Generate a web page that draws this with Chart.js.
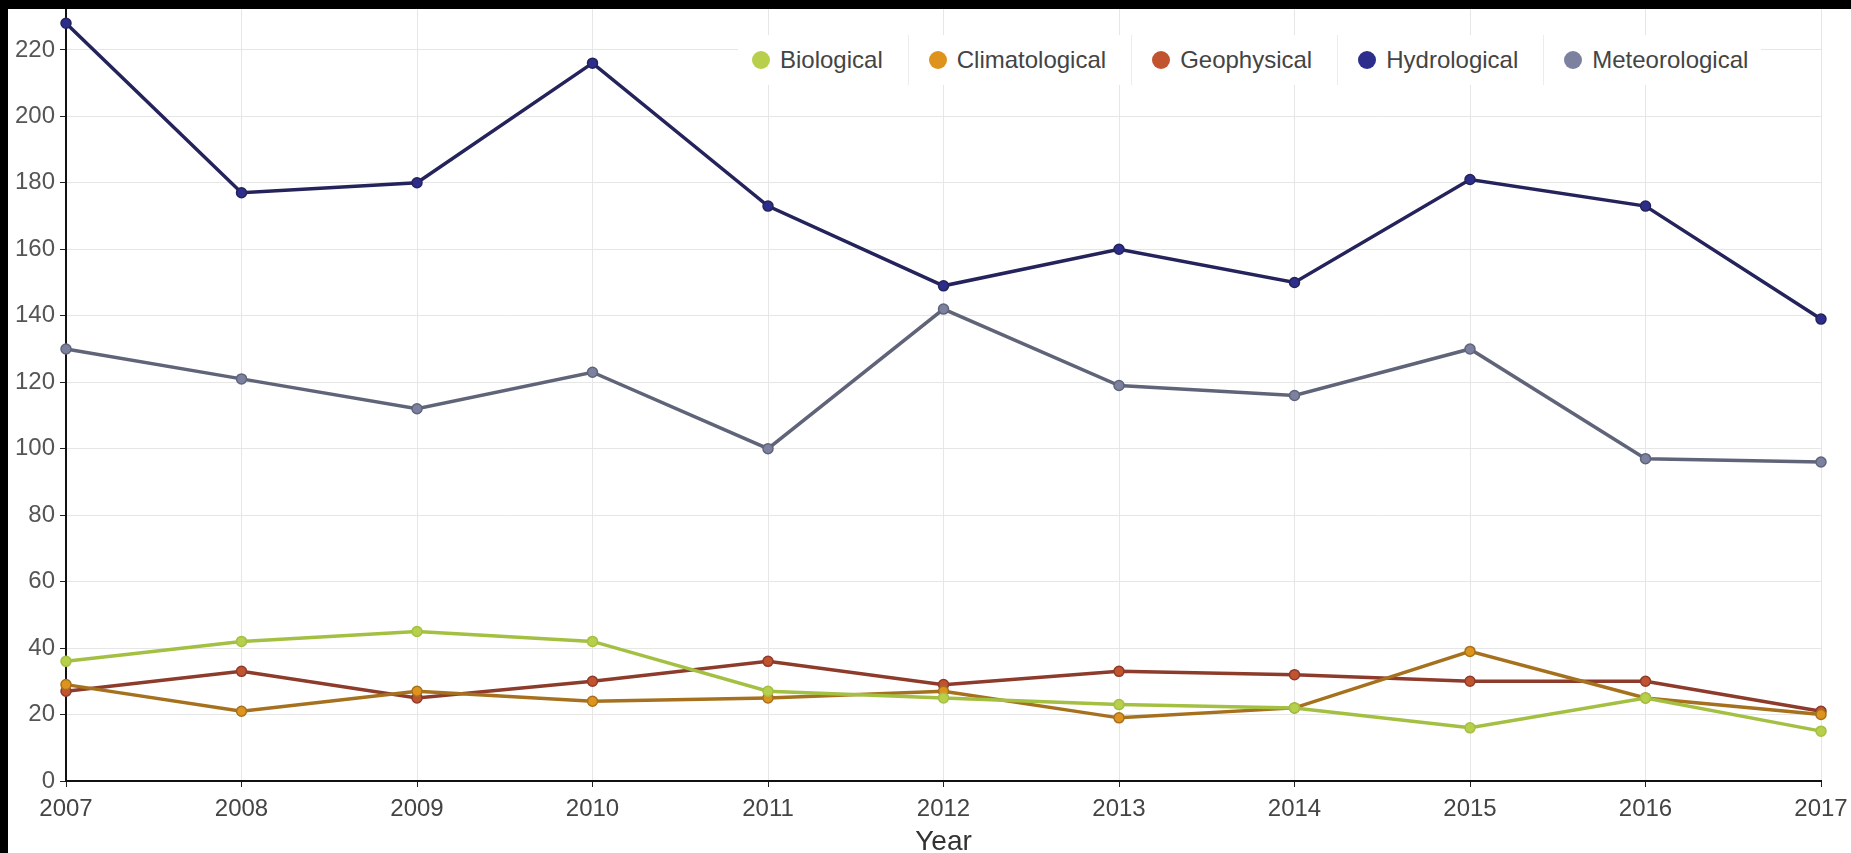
<!DOCTYPE html>
<html>
<head>
<meta charset="utf-8">
<script src="https://cdn.jsdelivr.net/npm/chart.js@4"></script>
<style>
    body { margin: 0; background: #000; overflow: hidden; width: 1851px; height: 853px; }
    #wrap { position: absolute; left: 8px; top: 9px; width: 1843px; height: 844px; background: #fff; }
    #legend {
        position: absolute; left: 738px; top: 35px; height: 50px;
        display: flex; align-items: stretch; background: #fff;
        font-family: "Liberation Sans", Arial, sans-serif; font-size: 24px; color: #444;
    }
    #legend .item { display: flex; align-items: center; padding: 0 25px 0 20px; border-left: 1px solid #ececec; }
    #legend .item:first-child { padding-left: 14px; border-left: none; }
    #legend .item:last-child { padding-right: 13px; }
    #legend .dot { width: 18px; height: 18px; border-radius: 50%; margin-right: 10px; }
</style>
</head>
<body>
<div id="wrap"><canvas id="disasterChart"></canvas></div>
<div id="legend"></div>
<script>
const years = ['2007', '2008', '2009', '2010', '2011', '2012', '2013', '2014', '2015', '2016', '2017'];
const biological = [36, 42, 45, 42, 27, 25, 23, 22, 16, 25, 15];
const climatological = [29, 21, 27, 24, 25, 27, 19, 22, 39, 25, 20];
const geophysical = [27, 33, 25, 30, 36, 29, 33, 32, 30, 30, 21];
const hydrological = [228, 177, 180, 216, 173, 149, 160, 150, 181, 173, 139];
const meteorological = [130, 121, 112, 123, 100, 142, 119, 116, 130, 97, 96];
const yTicks = [0, 20, 40, 60, 80, 100, 120, 140, 160, 180, 200, 220];

const seriesNames = ['Biological', 'Climatological', 'Geophysical', 'Hydrological', 'Meteorological'];
const lineColors = ['#a3c043', '#a6711e', '#8d3b2b', '#25235b', '#606479'];
const dotColors = ['#b7cf4b', '#de931d', '#c2532f', '#2d2e8c', '#7d81a0'];
const seriesData = [biological, climatological, geophysical, hydrological, meteorological];

const tickFont = { family: '"Liberation Sans", Arial, sans-serif', size: 24 };

const disasterChart = new Chart(document.getElementById('disasterChart'), {
    type: 'line',
    data: {
        labels: years,
        datasets: seriesNames.map((name, i) => ({
            label: name,
            data: seriesData[i],
            borderColor: lineColors[i],
            backgroundColor: dotColors[i],
            pointBackgroundColor: dotColors[i],
            pointBorderColor: lineColors[i],
            borderWidth: 3.5,
            pointRadius: 5,
            pointBorderWidth: 1.5,
            tension: 0
        }))
    },
    options: {
        responsive: true,
        maintainAspectRatio: false,
        animation: false,
        layout: { autoPadding: false, padding: { top: 0, right: 30, bottom: 0, left: 0 } },
        scales: {
            x: {
                offset: false,
                grid: { color: '#e6e6e6', tickColor: '#222', tickLength: 6 },
                border: { color: '#111', width: 2 },
                ticks: { color: '#444', font: tickFont, padding: 8, maxRotation: 0, autoSkip: false },
                title: {
                    display: true,
                    text: 'Year',
                    color: '#333',
                    font: { family: '"Liberation Sans", Arial, sans-serif', size: 28, lineHeight: 0.7 },
                    padding: { top: 0, bottom: 1 }
                },
                afterFit: s => { s.height = 72; s.paddingLeft = 0; s.paddingRight = 0; }
            },
            y: {
                min: 0,
                max: 232.3,
                grid: { color: '#e6e6e6', tickColor: '#222', tickLength: 6 },
                border: { color: '#111', width: 2 },
                ticks: { color: '#555', font: tickFont, padding: 5, stepSize: 20 },
                afterBuildTicks: s => { s.ticks = yTicks.map(v => ({ value: v })); },
                afterFit: s => { s.width = 58; s.paddingTop = 0; s.paddingBottom = 0; }
            }
        },
        plugins: {
            legend: { display: false },
            tooltip: { enabled: false }
        }
    }
});

// legend drawn as html on top of the plot
const legendBox = document.getElementById('legend');
disasterChart.data.datasets.forEach(ds => {
    const item = document.createElement('div');
    item.className = 'item';
    const dot = document.createElement('span');
    dot.className = 'dot';
    dot.style.background = ds.backgroundColor;
    item.appendChild(dot);
    item.appendChild(document.createTextNode(ds.label));
    legendBox.appendChild(item);
});
</script>
</body>
</html>
